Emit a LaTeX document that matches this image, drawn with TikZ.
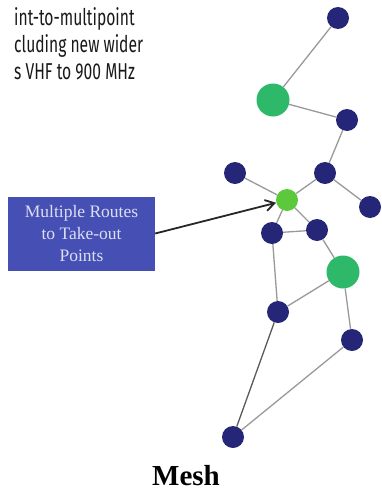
\documentclass[tikz,border=0pt]{standalone}
\usepackage{fontspec}
\usepackage{xcolor}
\usepackage{tikz}
\usetikzlibrary{shapes.geometric, arrows.meta, positioning}
\newfontfamily\condfont[FakeStretch=0.68]{Fira Sans}
\newfontfamily\romanfont{Liberation Serif}
\definecolor{navy}{RGB}{38,38,120}
\definecolor{bigleaf}{RGB}{45,184,106}
\definecolor{smallleaf}{RGB}{92,200,60}
\definecolor{boxblue}{RGB}{70,80,180}
\definecolor{boxtext}{RGB}{220,222,242}

\begin{document}
\begin{tikzpicture}[x=1pt, y=-1pt]
  \tikzstyle{relay} = [circle, fill=navy, minimum size=22pt, inner sep=0pt]
  \tikzstyle{gate} = [circle, fill=bigleaf, minimum size=33pt, inner sep=0pt]
  \tikzstyle{tap} = [circle, fill=smallleaf, minimum size=22pt, inner sep=0pt]
  \tikzstyle{link} = [-, draw=black!40, line width=1.3pt]
  \tikzstyle{caption} = [anchor=base west, inner sep=0pt, text=black!90, font=\condfont\fontsize{23}{27}\selectfont]
  \useasboundingbox (0,0) rectangle (381,490);
  % top caption, cut on the left
  \node[caption] (cap1) at (14,25) {int-to-multipoint};
  \node[caption] (cap2) at (14,52) {cluding new wider};
  \node[caption] (cap3) at (14,79) {s VHF to 900 MHz};
  % mesh nodes
  \node[relay] (R1)  at (338,18)  {};
  \node[gate]  (G1)  at (273,100) {};
  \node[relay] (R2)  at (347,120) {};
  \node[relay] (R3)  at (325,173) {};
  \node[relay] (R4)  at (235,173) {};
  \node[tap]   (T1)  at (287,200) {};
  \node[relay] (R5)  at (370,207) {};
  \node[relay] (R6)  at (272,233) {};
  \node[relay] (R7)  at (317,230) {};
  \node[gate]  (G2)  at (343,272) {};
  \node[relay] (R8)  at (278,312) {};
  \node[relay] (R9)  at (352,340) {};
  \node[relay] (R10) at (233,437) {};
  \draw[link] (R1) -- (G1);
  \draw[link] (G1) -- (R2);
  \draw[link] (R2) -- (R3);
  \draw[link] (R3) -- (T1);
  \draw[link] (R3) -- (R5);
  \draw[link] (R4) -- (T1);
  \draw[link] (T1) -- (R6);
  \draw[link] (T1) -- (R7);
  \draw[link] (R6) -- (R7);
  \draw[link] (R6) -- (R8);
  \draw[link] (R7) -- (G2);
  \draw[link] (G2) -- (R8);
  \draw[link] (G2) -- (R9);
  \draw[link, draw=black!65] (R8) -- (R10);
  \draw[link] (R9) -- (R10);
  % callout
  \node[fill=boxblue, minimum width=147pt, minimum height=74pt, align=center, text=boxtext,
        font=\romanfont\fontsize{17.5}{22}\selectfont] (routes) at (81.5,233.5)
        {Multiple Routes\\to Take-out\\Points};
  \draw[-{Straight Barb[length=9pt, width=11pt]}, line width=1.8pt, draw=black!85] (routes.east) -- (T1);
  \node[anchor=base, inner sep=0pt, font=\romanfont\bfseries\fontsize{29}{34}\selectfont] (mesh) at (186,485) {Mesh};
\end{tikzpicture}
\end{document}
